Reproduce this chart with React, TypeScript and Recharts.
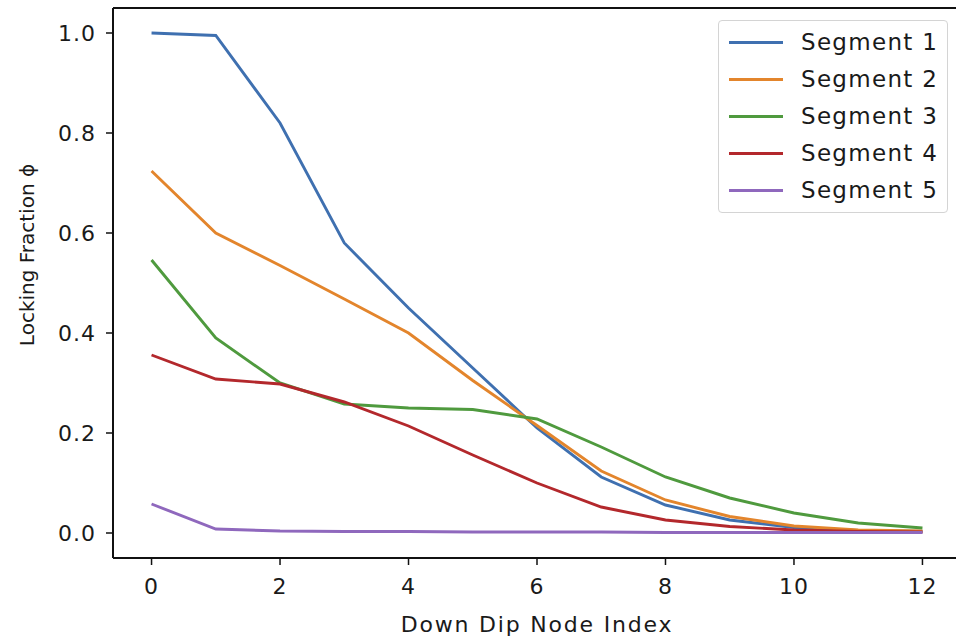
import { LineChart, Line, XAxis, YAxis, Legend, ReferenceLine } from 'recharts';

const nodes = [0, 1, 2, 3, 4, 5, 6, 7, 8, 9, 10, 11, 12];

const segment1 = [1.0, 0.995, 0.82, 0.58, 0.45, 0.33, 0.21, 0.112, 0.056, 0.026, 0.011, 0.005, 0.003];
const segment2 = [0.724, 0.6, 0.535, 0.468, 0.4, 0.305, 0.215, 0.124, 0.066, 0.033, 0.014, 0.006, 0.004];
const segment3 = [0.546, 0.39, 0.3, 0.258, 0.25, 0.247, 0.228, 0.172, 0.112, 0.07, 0.04, 0.02, 0.01];
const segment4 = [0.356, 0.308, 0.298, 0.262, 0.214, 0.156, 0.1, 0.052, 0.026, 0.013, 0.006, 0.003, 0.002];
const segment5 = [0.058, 0.008, 0.004, 0.003, 0.003, 0.002, 0.002, 0.002, 0.001, 0.001, 0.001, 0.001, 0.001];

const xTicks = [0, 2, 4, 6, 8, 10, 12];
const yTicks = [0, 0.2, 0.4, 0.6, 0.8, 1.0];

const seriesNames = ['Segment 1', 'Segment 2', 'Segment 3', 'Segment 4', 'Segment 5'];
const seriesColors = ['#3f70b0', '#e3852c', '#4f9a3e', '#b3282c', '#8f68bd'];
const seriesValues = [segment1, segment2, segment3, segment4, segment5];

const data = nodes.map((n, i) => {
  const row: Record<string, number> = { node: n };
  seriesNames.forEach((name, k) => {
    row[name] = seriesValues[k][i];
  });
  return row;
});

const FONT = 'DejaVu Sans, sans-serif';

function LegendBox() {
  return (
    <div
      style={{
        border: '1.5px solid #d4d4d4',
        borderRadius: 4,
        background: '#fff',
        padding: '3px 0 3px 10px',
        width: 230,
        boxSizing: 'border-box',
        fontFamily: FONT,
      }}
    >
      {seriesNames.map((name, k) => (
        <div key={name} style={{ display: 'flex', alignItems: 'center', height: 37.1 }}>
          <div style={{ width: 54, height: 3, background: seriesColors[k] }} />
          <span style={{ marginLeft: 18, fontSize: 23, letterSpacing: 1.3, color: '#1a1a1a', lineHeight: 1 }}>{name}</span>
        </div>
      ))}
    </div>
  );
}

function YLabel() {
  const cx = 27;
  const cy = 255;
  return (
    <text
      x={cx}
      y={cy}
      transform={`rotate(-90 ${cx} ${cy})`}
      textAnchor="middle"
      dominantBaseline="central"
      fontSize={20}
      fontFamily={FONT}
      fill="#1a1a1a"
    >
      Locking Fraction ϕ
    </text>
  );
}

export default function App() {
  return (
    <div style={{ position: 'absolute', left: 0, top: 0, width: 956, height: 638, overflow: 'hidden', background: '#fff' }}>
      <LineChart
        width={962}
        height={638}
        data={data}
        margin={{ top: 8, right: 1, left: 53, bottom: 0 }}
        style={{ fontFamily: FONT }}
      >
        <XAxis
          dataKey="node"
          type="number"
          domain={[-0.6, 12.6]}
          ticks={xTicks}
          allowDataOverflow
          height={80}
          tickSize={7}
          tickMargin={13}
          axisLine={{ stroke: '#111', strokeWidth: 2 }}
          tickLine={{ stroke: '#111', strokeWidth: 1.5 }}
          tick={{ fill: '#1a1a1a', fontSize: 22, letterSpacing: 1 }}
          label={{
            value: 'Down Dip Node Index',
            position: 'insideBottom',
            offset: 6,
            fontSize: 22,
            letterSpacing: 1.8,
            fill: '#1a1a1a',
          }}
        />
        <YAxis
          type="number"
          domain={[-0.05, 1.05]}
          ticks={yTicks}
          allowDataOverflow
          width={60}
          tickSize={7}
          tickMargin={10}
          tickFormatter={(v: number) => v.toFixed(1)}
          axisLine={{ stroke: '#111', strokeWidth: 2 }}
          tickLine={{ stroke: '#111', strokeWidth: 1.5 }}
          tick={{ fill: '#1a1a1a', fontSize: 22, letterSpacing: 1 }}
          label={<YLabel />}
        />
        <ReferenceLine y={1.05} stroke="#111" strokeWidth={2} />
        <Legend
          layout="horizontal"
          verticalAlign="middle"
          align="center"
          wrapperStyle={{ position: 'absolute', top: 20, left: 718, width: 230 }}
          content={() => <LegendBox />}
        />
        {seriesNames.map((name, k) => (
          <Line
            key={name}
            type="linear"
            dataKey={name}
            stroke={seriesColors[k]}
            strokeWidth={2.9}
            dot={false}
            activeDot={false}
            isAnimationActive={false}
          />
        ))}
      </LineChart>
    </div>
  );
}
